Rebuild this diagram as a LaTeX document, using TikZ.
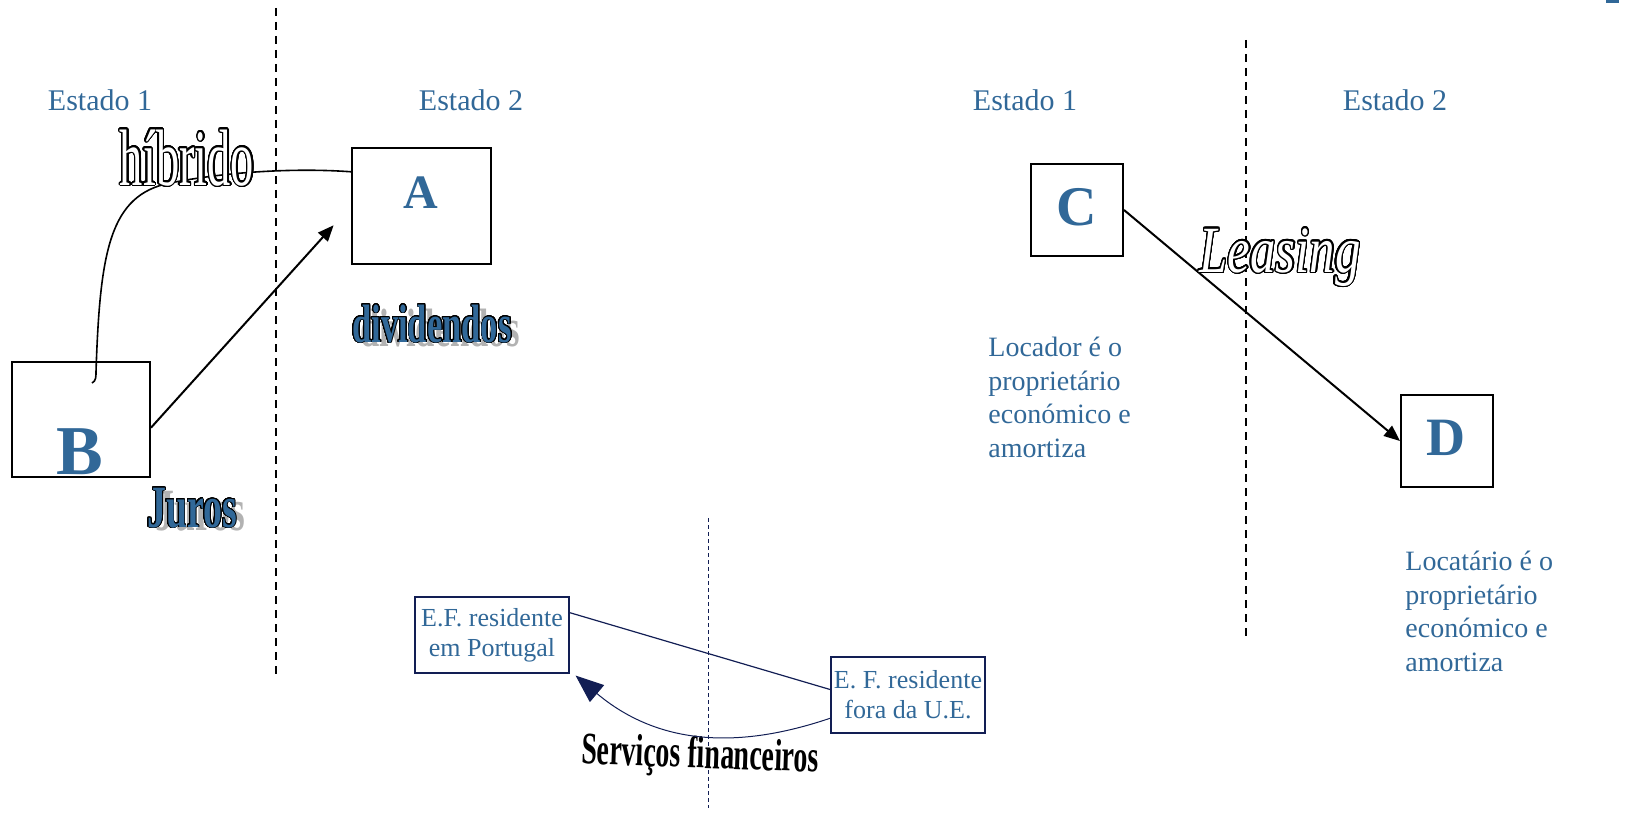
\documentclass[tikz,border=0pt]{standalone}
\usepackage{fontspec}
\setmainfont{Liberation Serif}
\newfontfamily\hibfont[FakeStretch=0.58]{Liberation Serif}
\newfontfamily\divfont[FakeStretch=0.64]{Liberation Serif}
\newfontfamily\jurfont[FakeStretch=0.63]{Liberation Serif}
\newfontfamily\leasfont[FakeStretch=0.77]{Liberation Serif}
\newfontfamily\servfont[FakeStretch=0.62]{Liberation Serif}
\usepackage{contour}
\contournumber{32}
\contourlength{0.7pt}
\usetikzlibrary{arrows.meta,calc}
\definecolor{tblue}{RGB}{49,104,152}
\definecolor{navy}{RGB}{18,30,84}
\definecolor{shadowgray}{RGB}{178,178,178}
\begin{document}
\begin{tikzpicture}[x=0.5pt,y=-0.5pt,
  estado/.style={text=tblue, font=\fontsize{15}{18}\selectfont, inner sep=0pt},
  bigbox/.style={draw, line width=1pt, inner sep=0pt},
  letter/.style={text=tblue, inner sep=0pt},
  efbox/.style={draw=navy, line width=0.6pt, inner sep=0pt, minimum width=77pt, minimum height=38pt, text=tblue, align=center, font=\fontsize{13}{15}\selectfont},
  note/.style={text=tblue, align=left, font=\fontsize{14}{16.75}\selectfont, inner sep=0pt, anchor=north west},
  sep/.style={dash pattern=on 4pt off 3pt, line width=1pt},
  arr/.style={-{Triangle[length=8pt,width=6.5pt]}, line width=1pt},
  word/.style={inner sep=0pt, anchor=base},
]
\useasboundingbox (0,0) rectangle (1628,840);

\fill[tblue] (1606,0) rectangle (1619,3);

% separators
\draw[sep] (276,8) -- (276,678);
\draw[sep] (1246,40) -- (1246,640);
\draw[navy, line width=0.5pt, dash pattern=on 2pt off 1.5pt] (708,518) -- (708,808);

% headings
\node[estado] (e1a) at (100,100) {Estado 1};
\node[estado] (e2a) at (471,100) {Estado 2};
\node[estado] (e1b) at (1025,100) {Estado 1};
\node[estado] (e2b) at (1395,100) {Estado 2};

% boxes
\node[bigbox, minimum width=69.5pt, minimum height=58pt] (A) at (421.5,206) {};
\node[bigbox, minimum width=69pt, minimum height=57.5pt] (B) at (81,419.5) {};
\node[bigbox, minimum width=46pt, minimum height=46pt] (C) at (1077,210) {};
\node[bigbox, minimum width=46pt, minimum height=46pt] (D) at (1447,441) {};

\node[letter, font=\fontsize{24}{24}\selectfont\bfseries] (lA) at (421,193) {A};
\node[letter, font=\fontsize{35}{35}\selectfont\bfseries] (lB) at (80,452) {B};
\node[letter, font=\fontsize{28}{28}\selectfont\bfseries] (lC) at (1077,207) {C};
\node[letter, font=\fontsize{27}{27}\selectfont\bfseries] (lD) at (1446,438) {D};

% híbrido connector
\coordinate (hb) at (92,383);
\draw[line width=0.8pt] (hb) .. controls (96,381) and (96,377) .. (96,372)
   .. controls (100,250) and (110,195) .. (170,183)
   .. controls (230,171) and (300,168) .. ($(A.north west)!0.21!(A.south west)$);

% arrows
\draw[arr, shorten >=13pt] ($(B.north east)!0.57!(B.south east)$) -- (A.west);
\draw[arr] (C.east) -- (D.west);

% outlined words
\node[word, text=white, font=\hibfont\fontsize{40}{40}\selectfont] (hib) at (187,185) {\contour{black}{híbrido}};
\node[word, text=shadowgray, font=\divfont\bfseries\fontsize{27}{27}\selectfont] (divsh) at (440,346) {dividendos};
\node[word, text=tblue, font=\divfont\bfseries\fontsize{27}{27}\selectfont] (div) at (432,342) {\contourlength{0.45pt}\contour{black}{dividendos}};
\node[word, text=shadowgray, font=\jurfont\bfseries\fontsize{30}{30}\selectfont] (jursh) at (200,530) {Juros};
\node[word, text=tblue, font=\jurfont\bfseries\fontsize{30}{30}\selectfont] (jur) at (192,527) {\contourlength{0.45pt}\contour{black}{Juros}};
\node[word, text=white, font=\leasfont\itshape\fontsize{33}{33}\selectfont] (leas) at (1280,272) {\contour{black}{Leasing}};
\node[word, text=black, rotate=-2, font=\servfont\bfseries\fontsize{22.5}{22.5}\selectfont] (serv) at (700,768) {Serviços financeiros};

% notes
\node[note] (loc) at (988,337) {Locador é o\\proprietário\\económico e\\amortiza};
\node[note] (lcat) at (1405,551) {Locatário é o\\proprietário\\económico e\\amortiza};

% financial entities
\node[efbox] (EF1) at (492,635) {E.F. residente\\em Portugal};
\node[efbox] (EF2) at (908,695) {E. F. residente\\fora da U.E.};

\draw[navy, line width=0.6pt] ($(EF1.north east)!0.21!(EF1.south east)$) -- ($(EF2.north west)!0.43!(EF2.south west)$);
\draw[navy, line width=0.5pt, -{Triangle[length=14pt,width=11pt]}]
  ($(EF2.north west)!0.8!(EF2.south west)$) .. controls (760,742) and (670,755) .. ($(EF1.south east)+(6,2)$);
\end{tikzpicture}
\end{document}
